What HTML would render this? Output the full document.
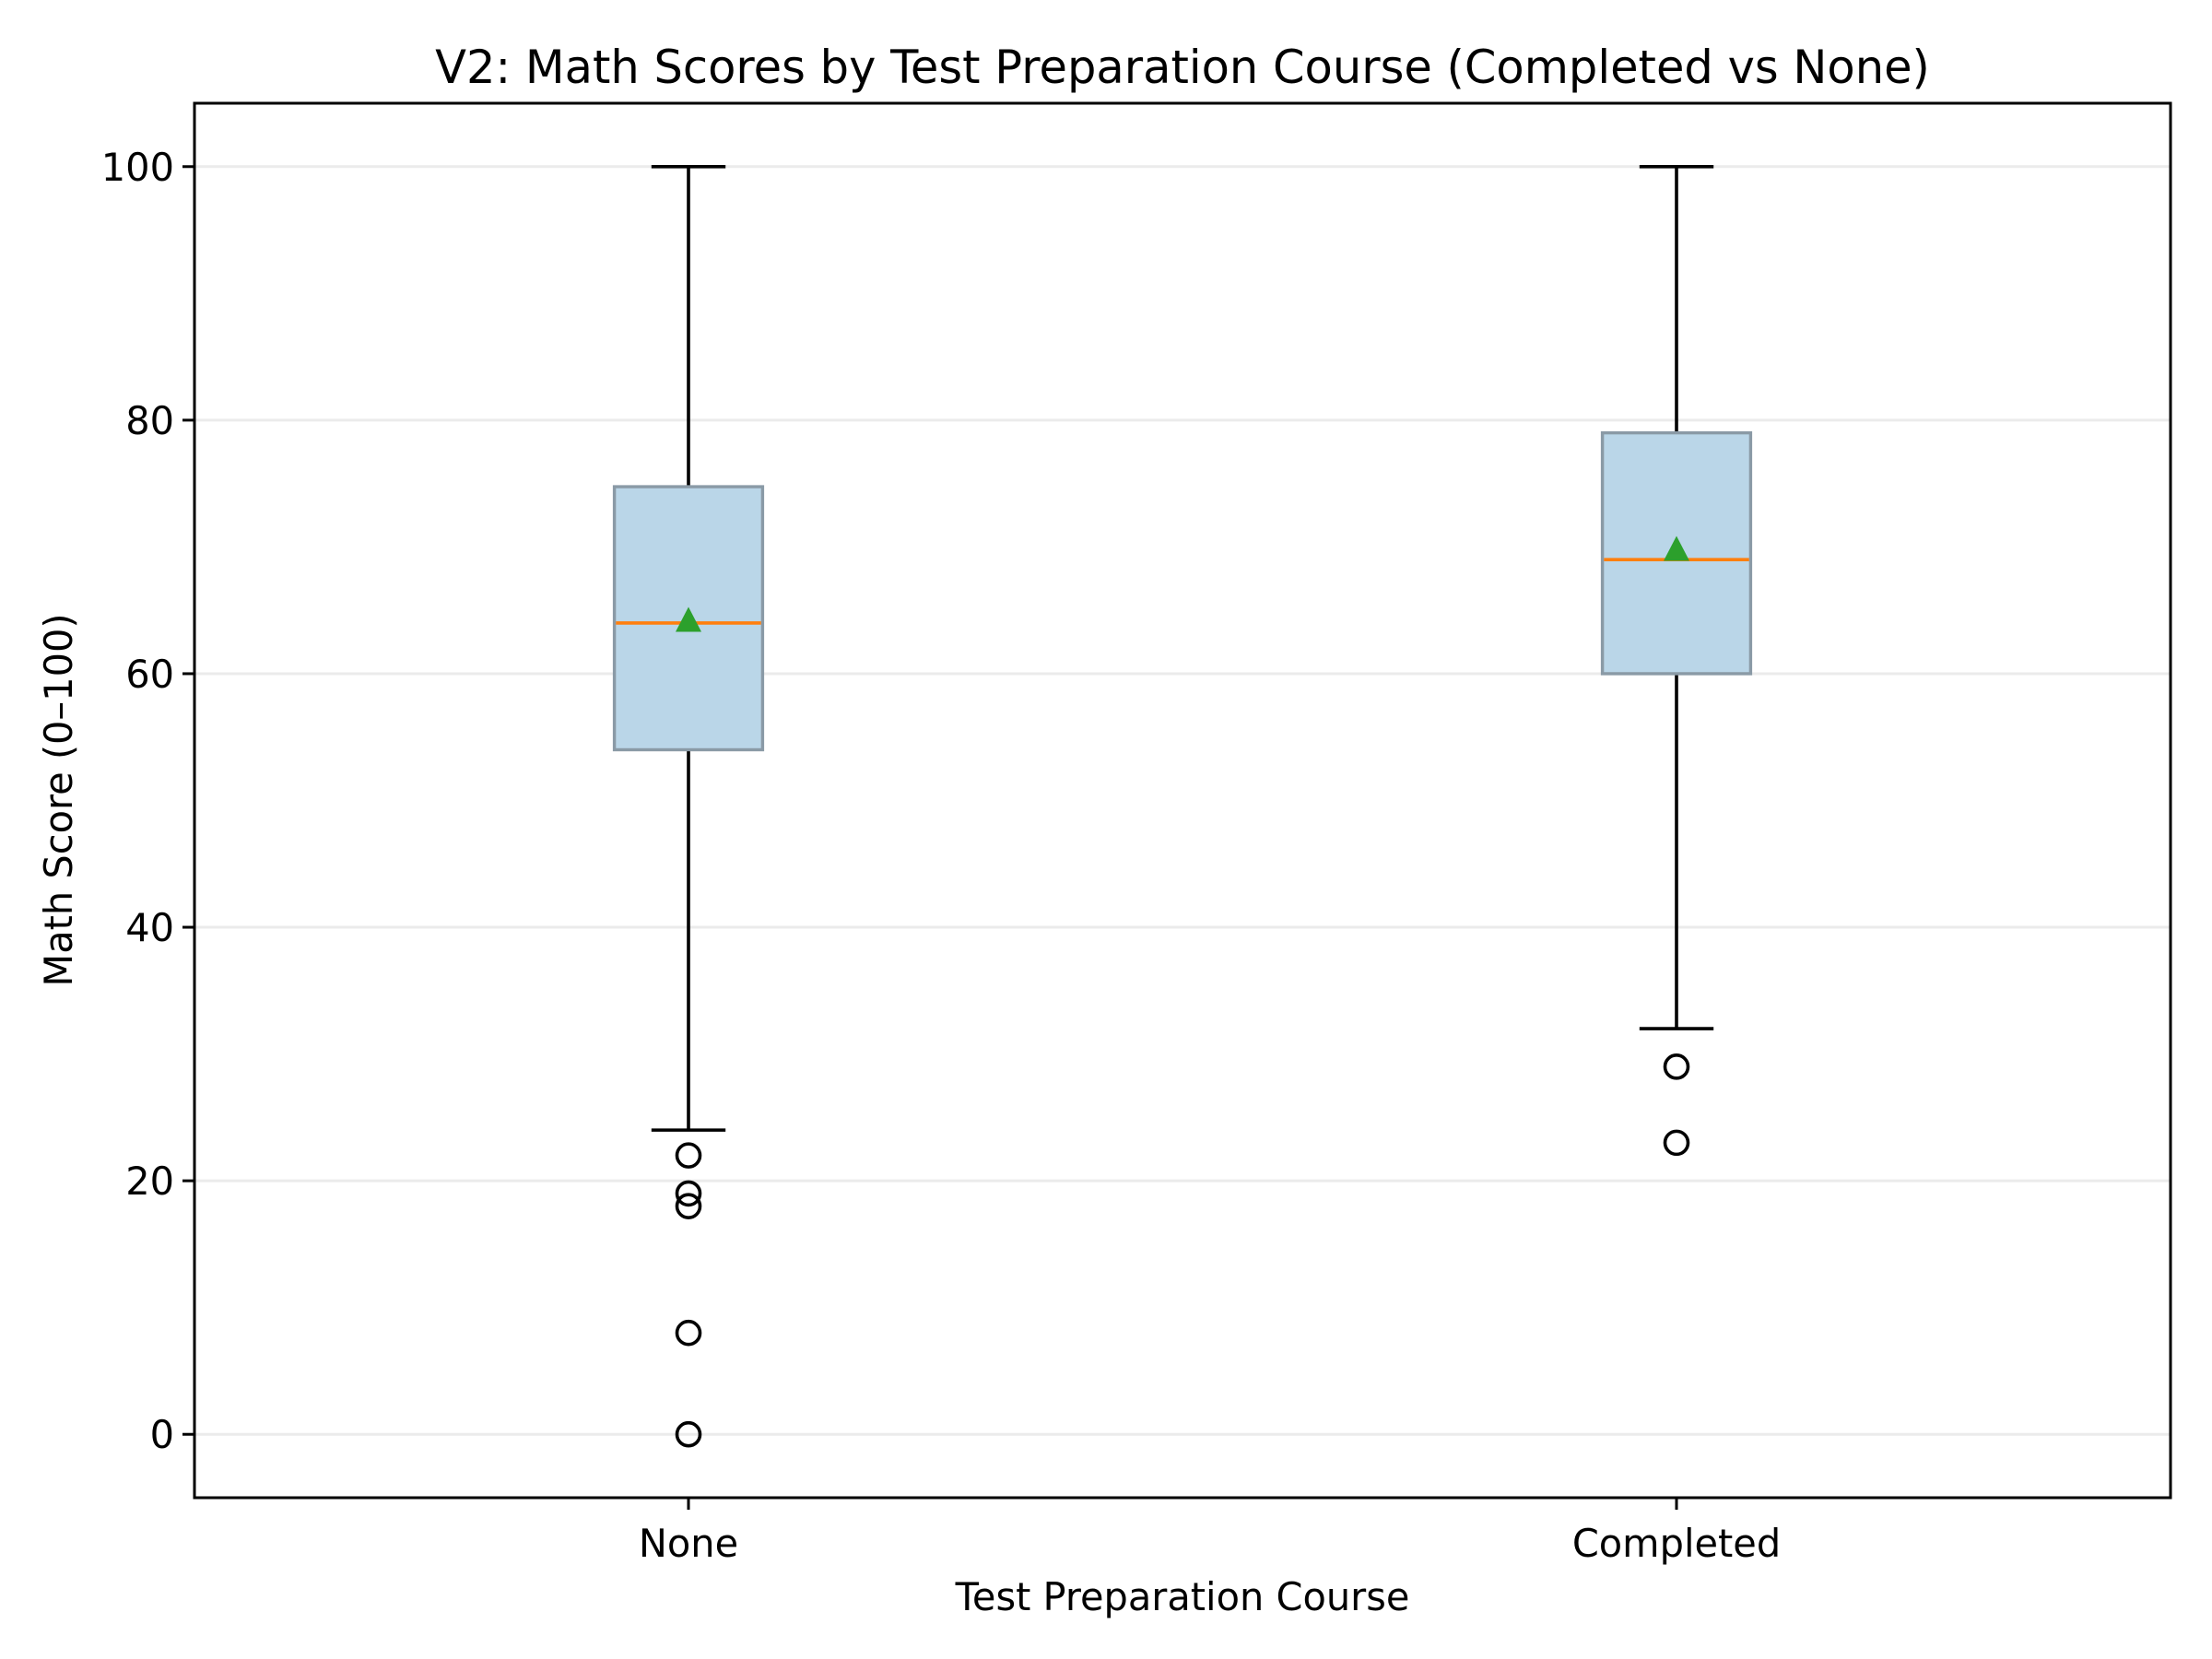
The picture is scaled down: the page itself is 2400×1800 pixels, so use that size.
<!DOCTYPE html>
<html><head><meta charset="utf-8"><style>
html,body{margin:0;padding:0;background:#fff;}
svg{display:block;}
text{font-family:"DejaVu Sans","Liberation Sans",sans-serif;fill:#000;}
</style></head><body>
<svg id="chart" width="2400" height="1800" viewBox="0 0 2400 1800" xmlns="http://www.w3.org/2000/svg">
<rect width="2400" height="1800" fill="#fff"/>
<g id="grid"></g>
<g id="boxes"></g>
<rect x="211" y="112" width="2144" height="1513" fill="none" stroke="#000" stroke-width="3"/>
<g id="axes"></g>
<text x="1283" y="90" font-size="49.5" text-anchor="middle">V2: Math Scores by Test Preparation Course (Completed vs None)</text>
<text x="1283" y="1747" font-size="41.5" text-anchor="middle">Test Preparation Course</text>
<text x="0" y="0" font-size="41.5" text-anchor="middle" transform="translate(78,868) rotate(-90)">Math Score (0–100)</text>
</svg>
<script>
const categories = ["None", "Completed"];
const whiskerLow = [24, 32];
const q1 = [54, 60];
const median = [64, 69];
const q3 = [74.75, 79];
const whiskerHigh = [100, 100];
const means = [64.1, 69.7];
const outliersNone = [22, 19, 18, 8, 0];
const outliersCompleted = [29, 23];
const outliers = [outliersNone, outliersCompleted];
const yTicks = [0, 20, 40, 60, 80, 100];

const L=211,R=2355,T=112,B=1625, yMin=-5,yMax=105, xMin=0.5,xMax=2.5;
const NS='http://www.w3.org/2000/svg';
const X=v=>L+(v-xMin)/(xMax-xMin)*(R-L);
const Y=v=>B-(v-yMin)/(yMax-yMin)*(B-T);
function mk(tag,attrs,parent){const e=document.createElementNS(NS,tag);for(const k in attrs)e.setAttribute(k,attrs[k]);parent.appendChild(e);return e;}
const grid=document.getElementById('grid'),boxes=document.getElementById('boxes'),axes=document.getElementById('axes');
yTicks.forEach(t=>{
  const g=mk('line',{x1:L,x2:R,y1:Y(t),y2:Y(t),stroke:'#ebebeb','stroke-width':3},grid);
  
  
  const tk=mk('line',{x1:L-13,x2:L,y1:Y(t),y2:Y(t),stroke:'#000','stroke-width':3},axes);
  
  
  const tl=mk('text',{x:L-22,y:Y(t)+15,'font-size':41.5,'text-anchor':'end'},axes);
  tl.textContent=t;
  
  
});
const halfW=0.075, capW=0.0375;
categories.forEach((c,i)=>{
  const p=i+1,cx=X(p);
  const tk=mk('line',{x1:cx,x2:cx,y1:B,y2:B+13,stroke:'#000','stroke-width':3},axes);
  
  
  const tl=mk('text',{x:cx,y:B+64,'font-size':41.5,'text-anchor':'middle'},axes);
  tl.textContent=c;
  
  
  const g=mk('g',{},boxes);
  
  
  const ln=(a,b,y1,y2,col,w)=>mk('line',{x1:a,x2:b,y1:y1,y2:y2,stroke:col,'stroke-width':w},g);
  const wl=ln(cx,cx,Y(q1[i]),Y(whiskerLow[i]),'#000',3.6);
  
  
  const wh=ln(cx,cx,Y(q3[i]),Y(whiskerHigh[i]),'#000',3.6);
  
  
  const c1=ln(X(p-capW),X(p+capW),Y(whiskerLow[i]),Y(whiskerLow[i]),'#000',3.6);
  
  
  const c2=ln(X(p-capW),X(p+capW),Y(whiskerHigh[i]),Y(whiskerHigh[i]),'#000',3.6);
  
  
  const r=mk('rect',{x:X(p-halfW),y:Y(q3[i]),width:X(p+halfW)-X(p-halfW),height:Y(q1[i])-Y(q3[i]),fill:'#bad6e8',stroke:'#8a9aa6','stroke-width':3.4},g);
  
  
  const m=ln(X(p-halfW)+1.7,X(p+halfW)-1.7,Y(median[i]),Y(median[i]),'#ff7f0e',3.6);
  
  
  const my=Y(means[i]);
  const tri=mk('polygon',{points:`${cx},${my-16} ${cx-14},${my+11} ${cx+14},${my+11}`,fill:'#2ca02c'},g);
  
  
  outliers[i].forEach(v=>{
    const o=mk('circle',{cx:cx,cy:Y(v),r:12.5,fill:'none',stroke:'#000','stroke-width':3.6},g);
    
    
  });
});
</script>
</body></html>
